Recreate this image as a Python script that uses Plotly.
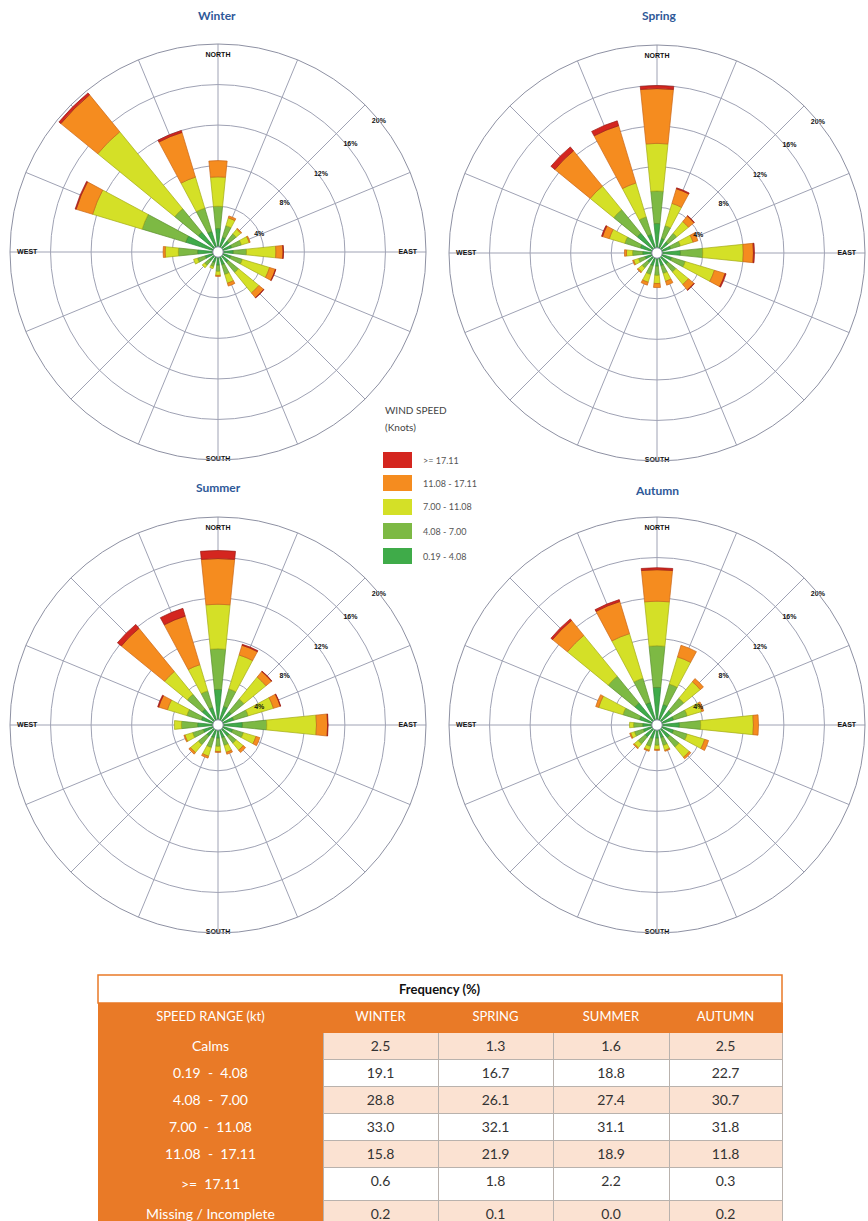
import plotly.graph_objects as go

W, H = 868, 1221

# ---------------------------------------------------------------- data
directions = ["N", "NNE", "NE", "ENE", "E", "ESE", "SE", "SSE",
              "S", "SSW", "SW", "WSW", "W", "WNW", "NW", "NNW"]
direction_deg = [0, 22.5, 45, 67.5, 90, 112.5, 135, 157.5,
                 180, 202.5, 225, 247.5, 270, 292.5, 315, 337.5]

speed_labels = ["0.19 - 4.08", "4.08 - 7.00", "7.00 - 11.08", "11.08 - 17.11", ">= 17.11"]

# frequency (%) per direction, one list per speed class
winter_s1 = [1.8, 1.0, 0.9, 0.9, 1.0, 0.8, 0.8, 0.8, 0.8, 0.6, 0.6, 0.8, 1.5, 2.8, 2.0, 1.6]
winter_s2 = [2.2, 1.2, 0.9, 1.0, 1.3, 1.2, 1.3, 1.0, 0.6, 0.4, 0.6, 0.8, 1.9, 4.5, 3.0, 2.4]
winter_s3 = [2.9, 0.8, 0.6, 0.8, 2.9, 2.8, 2.6, 0.9, 0.4, 0.2, 0.3, 0.4, 1.3, 5.1, 9.8, 3.2]
winter_s4 = [1.6, 0.2, 0.1, 0.1, 0.7, 0.6, 0.6, 0.3, 0.1, 0.0, 0.0, 0.0, 0.2, 1.7, 4.7, 4.6]
winter_s5 = [0.0, 0.0, 0.0, 0.0, 0.05, 0.05, 0.05, 0.0, 0.0, 0.0, 0.0, 0.0, 0.0, 0.1, 0.25, 0.2]

spring_s1 = [2.4, 1.0, 0.9, 0.9, 1.8, 1.0, 0.9, 0.8, 0.8, 0.8, 0.7, 0.7, 0.9, 1.2, 2.0, 1.4]
spring_s2 = [3.2, 1.3, 1.1, 1.0, 2.2, 1.4, 1.0, 0.8, 0.9, 0.9, 0.7, 0.7, 1.0, 1.6, 3.0, 1.8]
spring_s3 = [4.7, 2.3, 1.5, 1.3, 4.0, 3.0, 1.6, 0.8, 0.8, 0.8, 0.5, 0.5, 0.6, 1.6, 3.0, 3.5]
spring_s4 = [5.4, 1.5, 0.7, 0.5, 1.0, 1.1, 0.7, 0.4, 0.4, 0.3, 0.1, 0.1, 0.2, 0.7, 4.5, 5.9]
spring_s5 = [0.3, 0.1, 0.05, 0.0, 0.1, 0.1, 0.05, 0.0, 0.0, 0.0, 0.0, 0.0, 0.0, 0.1, 0.5, 0.5]

summer_s1 = [3.0, 1.4, 1.2, 1.1, 1.9, 1.0, 0.9, 0.8, 0.8, 0.8, 0.9, 1.0, 1.5, 1.2, 1.5, 1.3]
summer_s2 = [4.0, 1.8, 1.6, 1.5, 2.4, 1.1, 0.9, 0.8, 0.8, 1.0, 1.1, 1.1, 1.6, 1.5, 1.9, 1.7]
summer_s3 = [4.4, 3.5, 2.8, 2.6, 4.9, 1.3, 0.9, 0.7, 0.5, 0.9, 1.0, 0.8, 0.7, 2.0, 2.9, 2.7]
summer_s4 = [4.5, 1.0, 0.7, 0.7, 1.1, 0.4, 0.3, 0.2, 0.1, 0.2, 0.2, 0.1, 0.0, 0.9, 5.5, 5.0]
summer_s5 = [0.8, 0.1, 0.05, 0.05, 0.05, 0.0, 0.0, 0.0, 0.0, 0.0, 0.0, 0.0, 0.0, 0.1, 0.5, 0.8]

autumn_s1 = [3.2, 1.6, 1.3, 1.2, 1.7, 1.2, 1.1, 0.8, 0.8, 0.9, 1.0, 0.9, 0.9, 1.3, 2.3, 1.8]
autumn_s2 = [4.1, 2.1, 1.6, 1.4, 2.1, 1.4, 1.2, 0.8, 0.7, 0.8, 0.9, 0.9, 0.9, 1.7, 3.4, 2.5]
autumn_s3 = [4.4, 2.8, 2.1, 1.5, 5.2, 1.8, 1.3, 0.5, 0.4, 0.4, 0.5, 0.4, 0.4, 2.5, 5.2, 4.6]
autumn_s4 = [3.1, 1.2, 0.4, 0.2, 0.5, 0.4, 0.2, 0.1, 0.1, 0.1, 0.1, 0.1, 0.0, 0.3, 1.9, 3.3]
autumn_s5 = [0.2, 0.0, 0.0, 0.0, 0.0, 0.0, 0.0, 0.0, 0.0, 0.0, 0.0, 0.0, 0.0, 0.0, 0.2, 0.2]

ring_ticks = [4, 8, 12, 16, 20]
ring_text = ["4%", "8%", "12%", "16%", "20%"]
compass_text = ["NORTH", "EAST", "SOUTH", "WEST"]
compass_deg = [0, 90, 180, 270]

# summary table
table_rows = ["Calms", "0.19  -  4.08", "4.08  -  7.00", "7.00  -  11.08",
              "11.08  -  17.11", ">=  17.11", "Missing / Incomplete"]
table_cols = ["SPEED RANGE (kt)", "WINTER", "SPRING", "SUMMER", "AUTUMN"]
winter_freq = [2.5, 19.1, 28.8, 33.0, 15.8, 0.6, 0.2]
spring_freq = [1.3, 16.7, 26.1, 32.1, 21.9, 1.8, 0.1]
summer_freq = [1.6, 18.8, 27.4, 31.1, 18.9, 2.2, 0.0]
autumn_freq = [2.5, 22.7, 30.7, 31.8, 11.8, 0.3, 0.2]

# ---------------------------------------------------------------- style
speed_colors = ["#3fab49", "#7db944", "#d4e027", "#f58c1f", "#d4261f"]
speed_edges = ["#2b8435", "#5b8f2e", "#a3aa17", "#c9661a", "#9a1b15"]
ORANGE = "#e97a27"
PEACH = "#fbe2d2"
TITLE_BLUE = "#2e5898"
GRID = "#9fa2b4"
FONT = "Lato"


def px(x):
    return x / W


def py(y):
    return 1 - y / H


seasons = [
    ("Winter", "polar", [winter_s1, winter_s2, winter_s3, winter_s4, winter_s5], (218, 252)),
    ("Spring", "polar2", [spring_s1, spring_s2, spring_s3, spring_s4, spring_s5], (657, 253)),
    ("Summer", "polar3", [summer_s1, summer_s2, summer_s3, summer_s4, summer_s5], (218, 725)),
    ("Autumn", "polar4", [autumn_s1, autumn_s2, autumn_s3, autumn_s4, autumn_s5], (657, 725)),
]
RADIUS = 208
small_bold = dict(family="Liberation Sans", size=7, color="#111", weight="bold")

fig = go.Figure()
annotations = []
shapes = []
polar_layouts = {}

for name, sub, classes, (cx, cy) in seasons:
    for k, vals in enumerate(classes):
        fig.add_trace(go.Barpolar(
            r=vals, theta=direction_deg, width=11.5, subplot=sub,
            name=speed_labels[k], customdata=directions,
            marker=dict(color=speed_colors[k], line=dict(color=speed_edges[k], width=0.7)),
            hovertemplate="%{customdata}: %{r}%<extra>" + speed_labels[k] + "</extra>",
        ))
    # compass labels sit just inside the outer ring
    fig.add_trace(go.Scatterpolar(
        r=[18.9, 18.2, 19.95, 18.3], theta=compass_deg, text=compass_text,
        mode="text", subplot=sub, hoverinfo="skip", cliponaxis=False,
        textfont=small_bold,
    ))
    # ring percentage labels
    fig.add_trace(go.Scatterpolar(
        r=[3.9, 7.6, 12.2, 16.3, 19.9], theta=[67, 54, 53, 51, 51], text=ring_text,
        mode="text", subplot=sub, hoverinfo="skip", cliponaxis=False,
        textfont=small_bold,
    ))
    polar_layouts[sub] = dict(
        domain=dict(x=[px(cx - RADIUS), px(cx + RADIUS)], y=[py(cy + RADIUS), py(cy - RADIUS)]),
        bgcolor="white",
        hole=0.025,
        barmode="stack",
        angularaxis=dict(rotation=90, direction="clockwise", tickmode="array",
                         tickvals=direction_deg, showticklabels=False, ticks="",
                         gridcolor=GRID, gridwidth=1, showline=True,
                         linecolor="#8e91a3", linewidth=1),
        radialaxis=dict(range=[0, 20], tickmode="array", tickvals=ring_ticks,
                        showticklabels=False, ticks="", showline=False,
                        gridcolor=GRID, gridwidth=1),
    )

# season titles
title_pos = {"Winter": (217, 15), "Spring": (659, 15), "Summer": (218, 488), "Autumn": (657, 490)}
for name, (tx, ty) in title_pos.items():
    annotations.append(dict(x=px(tx), y=py(ty), xref="paper", yref="paper", text=name,
                            showarrow=False, xanchor="center", yanchor="middle",
                            font=dict(family=FONT, size=12, color=TITLE_BLUE, weight="bold")))

# wind speed key
annotations.append(dict(x=px(383), y=py(410), xref="paper", yref="paper", text="WIND SPEED",
                        showarrow=False, xanchor="left", yanchor="middle",
                        font=dict(family=FONT, size=10, color="#444")))
annotations.append(dict(x=px(383), y=py(427), xref="paper", yref="paper", text="(Knots)",
                        showarrow=False, xanchor="left", yanchor="middle",
                        font=dict(family=FONT, size=10, color="#444")))
key_rows = [(460, 4), (483, 3), (507, 2), (531, 1), (556, 0)]
for ky, k in key_rows:
    shapes.append(dict(type="rect", xref="paper", yref="paper",
                       x0=px(383), x1=px(412), y0=py(ky + 8), y1=py(ky - 8),
                       fillcolor=speed_colors[k], line=dict(width=0)))
    annotations.append(dict(x=px(421), y=py(ky), xref="paper", yref="paper", text=speed_labels[k],
                            showarrow=False, xanchor="left", yanchor="middle",
                            font=dict(family=FONT, size=9, color="#555")))

# table title row
shapes.append(dict(type="rect", xref="paper", yref="paper",
                   x0=px(98), x1=px(782), y0=py(1003), y1=py(975),
                   fillcolor="white", line=dict(color=ORANGE, width=1.5)))
annotations.append(dict(x=px(440), y=py(989), xref="paper", yref="paper", text="Frequency (%)",
                        showarrow=False, xanchor="center", yanchor="middle",
                        font=dict(family=FONT, size=13, color="#111", weight="bold")))

n = len(table_rows)
alt = [PEACH if i % 2 == 0 else "white" for i in range(n)]
fig.add_trace(go.Table(
    domain=dict(x=[px(98), px(782)], y=[0, py(1003)]),
    columnwidth=[225, 115, 115, 116, 113],
    header=dict(values=table_cols, fill_color=ORANGE, line_color=ORANGE,
                font=dict(family=FONT, size=13, color="white"), height=29, align="center"),
    cells=dict(values=[table_rows, winter_freq, spring_freq, summer_freq, autumn_freq],
               format=["", ".1f", ".1f", ".1f", ".1f"],
               fill_color=[[ORANGE] * n, alt, alt, alt, alt],
               line_color=[[ORANGE] * n] + [["#b9b2ad"] * n] * 4,
               font=dict(family=FONT, size=14,
                         color=[["white"] * n] + [["#333333"] * n] * 4),
               height=27, align="center"),
))

fig.update_layout(
    width=W, height=H,
    margin=dict(l=0, r=0, t=0, b=0),
    paper_bgcolor="white",
    showlegend=False,
    annotations=annotations,
    shapes=shapes,
    **polar_layouts,
)

fig.write_html("out.html")
